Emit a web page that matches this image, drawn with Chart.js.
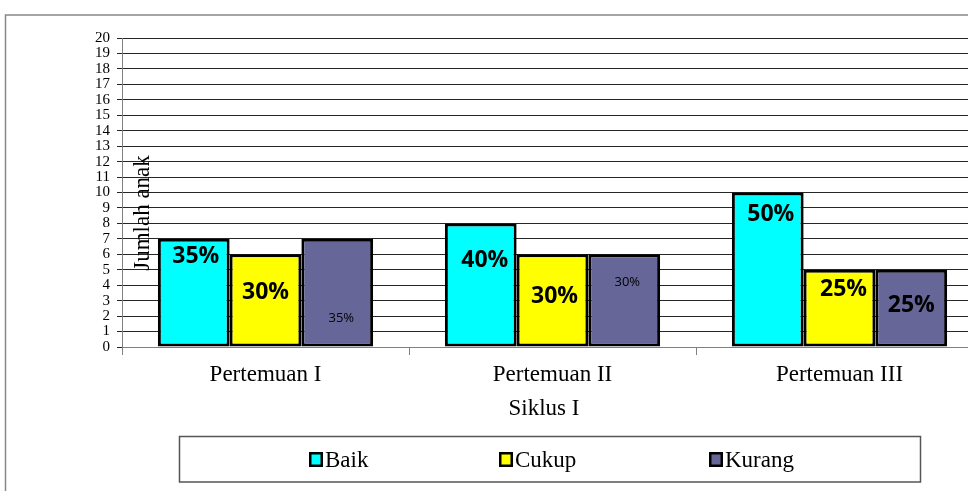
<!DOCTYPE html>
<html>
<head>
<meta charset="utf-8">
<script src="https://cdn.jsdelivr.net/npm/chart.js@4.4.1/dist/chart.umd.min.js"></script>
<style>
html, body { margin: 0; padding: 0; overflow: hidden; background: #fff; }
canvas { display: block; }
</style>
</head>
<body>
<canvas class="graph" width="1000" height="491"></canvas>
<script>
const categories = ['Pertemuan I', 'Pertemuan II', 'Pertemuan III'];
const seriesNames = ['Baik', 'Cukup', 'Kurang'];
const baik = [7, 8, 10];
const cukup = [6, 6, 5];
const kurang = [7, 6, 5];
const yMin = 0;
const yMax = 20;

const colors = ['#00FFFF', '#FFFF00', '#666699'];

// where each percentage sits: [x shift px, height in axis units, bold]
const labelSpots = [
    [[2, 5.88, true], [4, 5.59, true], [3, 8.58, true]],
    [[0, 3.56, true], [2, 3.27, true], [4, 3.71, true]],
    [[4, 1.86, false], [3, 4.21, false], [0, 2.67, true]]
];

const serif = '"Liberation Serif", "Times New Roman", serif';
const sans = '"Open Sans", "Liberation Sans", sans-serif';

const extras = {
    id: 'extras',
    afterDatasetsDraw(chart) {
        const c = chart.ctx;
        const y = chart.scales.y;
        const sets = chart.data.datasets;
        c.save();
        c.fillStyle = '#000';
        c.textAlign = 'center';
        c.textBaseline = 'middle';
        sets.forEach((ds, d) => {
            chart.getDatasetMeta(d).data.forEach((bar, i) => {
                let total = 0;
                sets.forEach(s => total += s.data[i]);
                const pct = Math.round(ds.data[i] / total * 100) + '%';
                const spot = labelSpots[d][i];
                c.font = spot[2] ? 'bold 23px ' + sans : '13px ' + sans;
                c.fillText(pct, bar.x + spot[0], y.getPixelForValue(spot[1]));
            });
        });
        c.restore();
    },
    afterDraw(chart) {
        const c = chart.ctx;
        c.save();

        // outer frame
        c.strokeStyle = '#888';
        c.lineWidth = 1.5;
        c.beginPath();
        c.moveTo(5.5, 600);
        c.lineTo(5.5, 15);
        c.lineTo(1100, 15);
        c.stroke();

        // y title, sits inside the plot
        c.fillStyle = '#000';
        c.font = '23px ' + serif;
        c.textAlign = 'center';
        c.textBaseline = 'middle';
        c.translate(143, 213);
        c.rotate(-Math.PI / 2);
        c.fillText('Jumlah anak', 0, 0);
        c.setTransform(1, 0, 0, 1, 0, 0);

        // x title
        c.textBaseline = 'alphabetic';
        c.fillText('Siklus I', 544, 415);

        // legend
        c.strokeStyle = '#555';
        c.lineWidth = 1.5;
        c.strokeRect(179.5, 436.5, 741, 45.5);
        const boxX = [309, 499, 709];
        c.textAlign = 'left';
        chart.data.datasets.forEach((ds, d) => {
            c.fillStyle = ds.backgroundColor;
            c.fillRect(boxX[d], 452, 14, 15);
            c.strokeStyle = '#000';
            c.lineWidth = 2.5;
            c.strokeRect(boxX[d] + 1.25, 453.25, 11.5, 12.5);
            c.fillStyle = '#000';
            c.fillText(ds.label, boxX[d] + 16, 467);
        });
        c.restore();
    }
};

const ctx = document.querySelector('.graph');
const myChart = new Chart(ctx, {
    type: 'bar',
    data: {
        labels: categories,
        datasets: [baik, cukup, kurang].map((vals, d) => ({
            label: seriesNames[d],
            data: vals,
            backgroundColor: colors[d],
            borderColor: '#000',
            borderWidth: 3,
            borderSkipped: false,
            categoryPercentage: 0.75,
            barPercentage: 1
        }))
    },
    options: {
        responsive: false,
        animation: false,
        devicePixelRatio: 1,
        layout: {
            padding: { top: 38, right: 17, left: 0, bottom: 0 }
        },
        scales: {
            x: {
                afterFit: s => { s.height = 144; },
                grid: {
                    drawOnChartArea: false,
                    color: '#808080',
                    tickLength: 8
                },
                border: { color: '#808080' },
                ticks: {
                    color: '#000',
                    padding: 6,
                    font: { family: serif, size: 23 }
                }
            },
            y: {
                min: yMin,
                max: yMax,
                afterFit: s => { s.width = 122; },
                grid: {
                    color: '#262626',
                    tickLength: 5
                },
                border: { color: '#808080' },
                ticks: {
                    stepSize: 1,
                    autoSkip: false,
                    color: '#000',
                    padding: 7,
                    font: { family: serif, size: 15 }
                }
            }
        },
        plugins: {
            legend: { display: false },
            tooltip: { enabled: false }
        }
    },
    plugins: [extras]
});
</script>
</body>
</html>
